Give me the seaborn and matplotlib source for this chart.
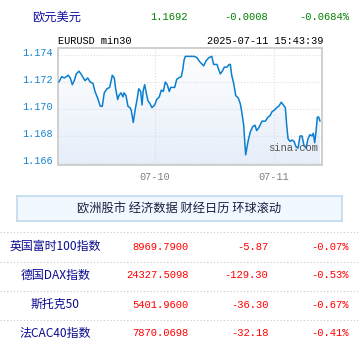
import numpy as np
import pandas as pd
import matplotlib
matplotlib.use("Agg")
import matplotlib.pyplot as plt
import seaborn as sns
from matplotlib.colors import LinearSegmentedColormap
from matplotlib.transforms import ScaledTranslation

# header quote
pair_name = "欧元美元"
pair_quote = ["1.1692", "-0.0008", "-0.0684%"]
chart_title = "EURUSD min30"
chart_stamp = "2025-07-11 15:43:39"

# 30-min line, hours from 07-10 00:00
hours = [-19.36, -18.82, -18.29, -17.49, -17.08, -16.68, -16.28, -15.87, -15.33, -14.93,
         -14.12, -13.57, -13.05, -12.51, -12.10, -11.56, -11.03, -10.63, -10.23, -9.68,
         -9.14, -8.61, -8.21, -7.93, -7.52, -7.26, -6.86, -6.45, -6.25, -5.85,
         -5.45, -5.04, -4.78, -4.38, -3.97, -3.57, -3.29, -2.88, -2.62, -2.36,
         -2.08, -1.82, -1.41, -1.01, -0.61, -0.06, 0.34, 0.87, 1.27, 1.67,
         2.08, 2.48, 2.88, 3.17, 3.97, 4.38, 4.78, 5.30, 5.59, 5.85,
         6.11, 6.51, 7.26, 7.93, 8.47, 9.02, 9.82, 10.35, 10.89, 11.44,
         11.84, 12.51, 12.77, 13.17, 13.57, 13.98, 14.52, 14.93, 15.19, 15.47,
         15.87, 16.28, 16.80, 17.20, 17.49, 17.89, 18.15, 18.29, 18.56, 18.82,
         19.22, 19.71, 20.17, 20.51, 20.92, 21.58, 22.25, 22.79, 23.20, 23.60,
         24.00, 24.55, 24.95, 25.47, 25.88, 26.28, 26.56, 26.83, 27.23, 27.63,
         28.04, 28.44, 28.84, 29.25, 29.65, 30.05, 30.46, 30.86, 31.26, 31.67,
         31.93, 32.21, 32.47, 32.74, 33.02, 33.28]
price = [1.1720, 1.1724, 1.1723, 1.1725, 1.1723, 1.1718, 1.1721, 1.1726, 1.1728, 1.1726,
         1.1721, 1.1723, 1.1720, 1.1719, 1.1713, 1.1708, 1.1702, 1.1702, 1.1712, 1.1715,
         1.1716, 1.1725, 1.1723, 1.1715, 1.1707, 1.1710, 1.1712, 1.1709, 1.1712, 1.1710,
         1.1702, 1.1701, 1.1699, 1.1690, 1.1700, 1.1708, 1.1715, 1.1713, 1.1703, 1.1714,
         1.1718, 1.1713, 1.1706, 1.1704, 1.1701, 1.1703, 1.1707, 1.1709, 1.1714, 1.1713,
         1.1720, 1.1718, 1.1713, 1.1716, 1.1716, 1.1722, 1.1723, 1.1724, 1.1729, 1.1736,
         1.1739, 1.1739, 1.1739, 1.1739, 1.1738, 1.1735, 1.1732, 1.1736, 1.1738, 1.1739,
         1.1733, 1.1733, 1.1730, 1.1726, 1.1728, 1.1731, 1.1731, 1.1733, 1.1733, 1.1725,
         1.1719, 1.1710, 1.1708, 1.1704, 1.1698, 1.1688, 1.1673, 1.1666, 1.1672, 1.1677,
         1.1683, 1.1687, 1.1688, 1.1684, 1.1686, 1.1691, 1.1691, 1.1694, 1.1695, 1.1698,
         1.1699, 1.1701, 1.1702, 1.1705, 1.1703, 1.1701, 1.1688, 1.1678, 1.1676, 1.1677,
         1.1676, 1.1672, 1.1671, 1.1680, 1.1680, 1.1673, 1.1671, 1.1678, 1.1681, 1.1680,
         1.1682, 1.1675, 1.1683, 1.1694, 1.1694, 1.1691]
y_ticks = [1.166, 1.168, 1.170, 1.172, 1.174]
x_ticks = [0, 24]
x_labels = ["07-10", "07-11"]

tabs = "欧洲股市 经济数据 财经日历 环球滚动"
idx_names = ["英国富时100指数", "德国DAX指数", "斯托克50", "法CAC40指数"]
idx_values = ["8969.7900", "24327.5098", "5401.9600", "7870.0698"]
idx_change = ["-5.87", "-129.30", "-36.30", "-32.18"]
idx_pct = ["-0.07%", "-0.53%", "-0.67%", "-0.41%"]

sns.set_style("white")
plt.rcParams['font.family'] = ['Noto Sans CJK SC', 'DejaVu Sans']
MONO = ['Liberation Mono', 'DejaVu Sans Mono']
CJK = ['Noto Sans CJK SC', 'DejaVu Sans']

W, H = 358, 364
fig = plt.figure(figsize=(W / 100, H / 100), dpi=100)
fig.patch.set_facecolor('white')


def px(x, y):
    return x / W, 1 - y / H


# top quote line
fig.text(*px(32, 17), pair_name, family=CJK, fontsize=8.8, color='#1010a0', va='center')
for s, xr in zip(pair_quote, [188, 268, 349]):
    fig.text(*px(xr, 17), s, family=MONO, fontsize=7.6, color='#068006', ha='right', va='center')

fig.text(*px(58, 41), chart_title, family=MONO, fontsize=7.4, color='black', va='center')
fig.text(*px(323, 41), chart_stamp, family=MONO, fontsize=7.4, color='black', ha='right', va='center')

# chart
ax = fig.add_axes([58 / W, 1 - 165 / H, 264 / W, 117 / H])
df = pd.DataFrame({"hours": hours, "price": price})
ylo, yhi = 1.16585, 1.17452
xlo, xhi = -19.56, 33.68

poly = ax.fill_between(df["hours"], df["price"], ylo, color='none', lw=0)
cmap = LinearSegmentedColormap.from_list("bg", ["#e6eefa", "#ffffff"])
grad = np.linspace(0, 1, 256).reshape(-1, 1)
im = ax.imshow(grad, extent=[xlo, xhi, ylo, yhi], aspect='auto', cmap=cmap,
               origin='lower', zorder=0)
im.set_clip_path(poly.get_paths()[0], ax.transData)

sns.lineplot(data=df, x="hours", y="price", ax=ax, color='#0a7fd0', linewidth=1.1,
             estimator=None, sort=False, zorder=3)
ax.set_xlim(xlo, xhi)
ax.set_ylim(ylo, yhi)
ax.set_xlabel("")
ax.set_ylabel("")
ax.set_yticks(y_ticks)
ax.set_yticklabels([f"{v:.3f}" for v in y_ticks], family=MONO, fontsize=7.4, color='#1a86d0')
ax.set_xticks(x_ticks)
ax.set_xticklabels(x_labels, family=MONO, fontsize=7.4, color='#808080')
ax.tick_params(length=0, pad=4)
ax.tick_params(axis='x', pad=5)
for lbl in ax.get_yticklabels():
    lbl.set_transform(lbl.get_transform() + ScaledTranslation(0, 0.03, fig.dpi_scale_trans))
ax.grid(True, color='#dddddd', linestyle=':', linewidth=0.8)
ax.set_axisbelow(True)
for sp in ax.spines.values():
    sp.set_color('#cfcfcf')
    sp.set_linewidth(1.4)
ax.text(0.985, 0.145, "sina.com", transform=ax.transAxes, family=MONO, fontsize=7.6,
        color='#555555', ha='right', va='center', zorder=4)

# tab bar
tab_ax = fig.add_axes([17 / W, 1 - 221 / H, 325 / W, 25 / H])
tab_ax.set_xticks([])
tab_ax.set_yticks([])
tab_ax.set_facecolor('#f2f8ff')
for sp in tab_ax.spines.values():
    sp.set_color('#c5dcee')
    sp.set_linewidth(1.3)
tab_ax.text(0.498, 0.48, tabs, family=CJK, fontsize=8.8, color='#1a2040', ha='center', va='center')

# separators
for y in [232.5, 261.5, 290.5, 319.5]:
    fig.add_artist(plt.Line2D([0, 1], [1 - y / H] * 2, color='#c8c8c8', linestyle=(0, (1, 2)),
                              linewidth=0.8))

# index table
for i, yc in enumerate([246.5, 275.5, 304.5, 333.5]):
    fig.text(*px(55.5, yc), idx_names[i], family=CJK, fontsize=8.6, color='#0a0a90',
             ha='center', va='center')
    fig.text(*px(188.5, yc), idx_values[i], family=MONO, fontsize=7.6, color='#ff0000',
             ha='right', va='center')
    fig.text(*px(268.5, yc), idx_change[i], family=MONO, fontsize=7.6, color='#ff0000',
             ha='right', va='center')
    fig.text(*px(348.5, yc), idx_pct[i], family=MONO, fontsize=7.6, color='#ff0000',
             ha='right', va='center')

fig.savefig("out.png", dpi=100, facecolor='white')
